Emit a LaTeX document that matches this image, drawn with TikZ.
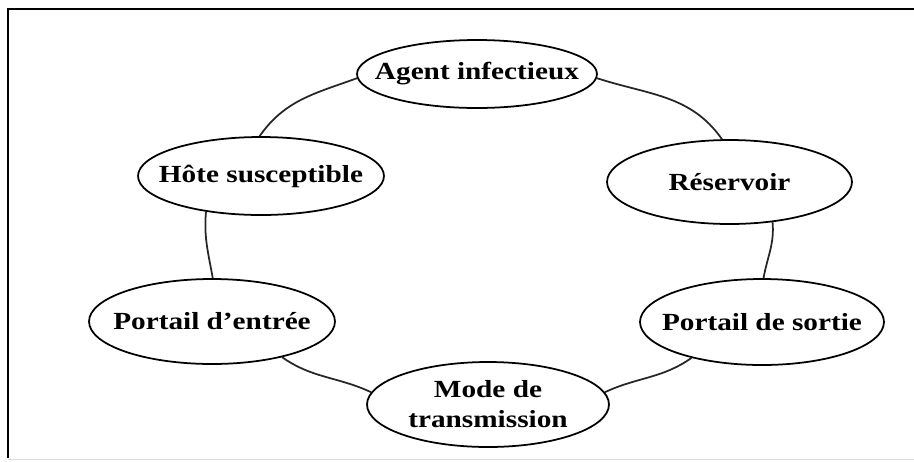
\documentclass[tikz,border=0pt]{standalone}
\usepackage{fontspec}
\setmainfont{Liberation Serif}[FakeStretch=1.19]
\usetikzlibrary{shapes.geometric}
\begin{document}
\begin{tikzpicture}[x=0.02cm,y=-0.02cm,
  % negative inner sep lets the minimum sizes fix each ellipse
  stage/.style={ellipse,draw=black,line width=1pt,fill=white,inner sep=-80pt,
    font=\bfseries\fontsize{14}{17}\selectfont,align=center},
  link/.style={line width=1pt,black!85}]
\useasboundingbox (0,0) rectangle (914,461);
% frame
\draw[line width=1.4pt] (914,9) -- (8,9) -- (8,458);
\draw[black!15,line width=0.8pt] (8,459.5) -- (914,459.5);
% stages of the chain
\node[stage,minimum width=4.8cm,minimum height=1.36cm] (agent) at (477,74) {Agent infectieux};
\node[stage,minimum width=4.92cm,minimum height=1.56cm] (hote) at (261,176) {Hôte susceptible};
\node[stage,minimum width=4.9cm,minimum height=1.68cm] (reservoir) at (729.5,182) {Réservoir};
\node[stage,minimum width=4.92cm,minimum height=1.7cm] (entree) at (212,321.5) {Portail d'entrée};
\node[stage,minimum width=4.88cm,minimum height=1.72cm] (sortie) at (762,322) {Portail de sortie};
\node[stage,minimum width=4.84cm,minimum height=1.7cm] (mode) at (488,404.5) {Mode de\\transmission};
% links around the cycle
\draw[link] (agent.-2) to[out=-18,in=125] (reservoir.100);
\draw[link] (reservoir.-43) to[out=-85,in=80] (sortie.88);
\draw[link] (sortie.-153) to[out=-145,in=25] (mode.6);
\draw[link] (mode.174) to[out=155,in=-35] (entree.-27);
\draw[link] (entree.89) to[out=100,in=-95] (hote.-147);
\draw[link] (hote.92) to[out=55,in=200] (agent.-178);
\end{tikzpicture}
\end{document}
